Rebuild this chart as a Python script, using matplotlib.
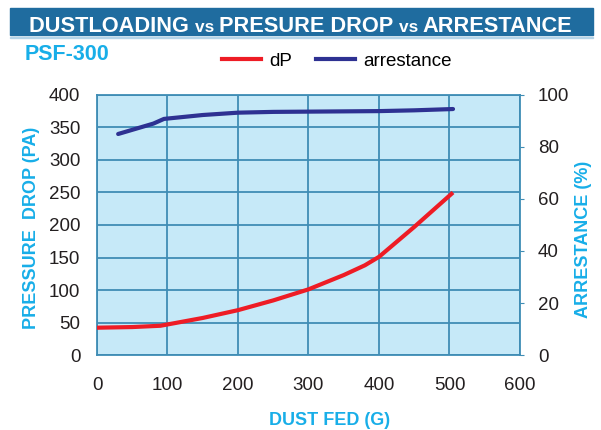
import matplotlib
matplotlib.use('Agg')
import matplotlib.pyplot as plt
from matplotlib.patches import Rectangle

plt.rcParams['font.family'] = ['Liberation Sans', 'DejaVu Sans']

# data
dust_dp = [0, 50, 90, 100, 150, 200, 250, 300, 350, 380, 400, 450, 505]
dp = [42, 43, 45, 47, 57, 69, 84, 101, 123, 138, 151, 197, 250]
dust_arr = [30, 80, 95, 150, 200, 250, 300, 400, 450, 505]
arrestance = [85, 89, 90.8, 92.3, 93.2, 93.5, 93.6, 93.8, 94.1, 94.6]

x_ticks = [0, 100, 200, 300, 400, 500, 600]
dp_ticks = [0, 50, 100, 150, 200, 250, 300, 350, 400]
arr_ticks = [0, 20, 40, 60, 80, 100]

title_parts = [('DUSTLOADING ', 17), ('vs ', 13.5), ('PRESURE DROP ', 17), ('vs ', 13.5), ('ARRESTANCE', 17)]

cyan = '#18aee8'
grid_c = '#3f8db5'
red = '#ee1c25'
navy = '#2e3192'

fig = plt.figure(figsize=(6.01, 4.30), dpi=100)
ax = fig.add_axes([0.1614, 0.1744, 0.7038, 0.6047])
ax.set_facecolor('#c6e9f8')

ax.plot(dust_dp, dp, color=red, lw=3, solid_capstyle='butt', zorder=3)
ax.set_xlim(0, 600)
ax.set_ylim(0, 400)
ax.set_xticks(x_ticks)
ax.set_yticks(dp_ticks)
ax.grid(True, color=grid_c, lw=1.3)
ax.set_axisbelow(True)
for s in ax.spines.values():
    s.set_color(grid_c)
    s.set_linewidth(1.3)
ax.tick_params(axis='both', length=0, labelsize=13.5, labelcolor='#231f20')
ax.tick_params(axis='x', pad=16)
ax.tick_params(axis='y', pad=12)

ax2 = ax.twinx()
ax2.plot(dust_arr, arrestance, color=navy, lw=3, solid_capstyle='round', zorder=3)
ax2.set_ylim(0, 100)
ax2.set_yticks(arr_ticks)
ax2.tick_params(axis='y', length=3, color=grid_c, labelsize=13.5, labelcolor='#231f20', pad=10)
for s in ax2.spines.values():
    s.set_visible(False)

fig.text(0.052, 0.47, 'PRESSURE  DROP (PA)', rotation=90, color=cyan, fontsize=13,
         fontweight='bold', ha='center', va='center')
fig.text(0.971, 0.443, 'ARRESTANCE (%)', rotation=90, color=cyan, fontsize=13,
         fontweight='bold', ha='center', va='center')
fig.text(0.549, 0.023, 'DUST FED (G)', color=cyan, fontsize=13, fontweight='bold',
         ha='center', va='center')

# title banner
fig.patches.append(Rectangle((10 / 601, 1 - 35 / 430), 583 / 601, 27 / 430,
                             transform=fig.transFigure, color='#1f6c9f', zorder=0))
fig.patches.append(Rectangle((10 / 601, 1 - 38 / 430), 583 / 601, 1.5 / 430,
                             transform=fig.transFigure, color='#b4d4e8', zorder=0))
renderer = fig.canvas.get_renderer()
texts = [fig.text(0, 1 - 32 / 430, txt, color='white', fontsize=size, fontweight='bold',
                  va='baseline', ha='left') for txt, size in title_parts]
total = sum(t.get_window_extent(renderer).width for t in texts)
scale = 543 / total
x = 29 / 601
for t, (txt, size) in zip(texts, title_parts):
    t.set_fontsize(size * scale)
    t.set_x(x)
    x += t.get_window_extent(renderer).width / fig.bbox.width

fig.text(25 / 601, 1 - 55 / 430, 'PSF-300', color=cyan, fontsize=15.5, fontweight='bold',
         va='center', ha='left')

h1, = ax.plot([], [], color=red, lw=3, label='dP')
h2, = ax.plot([], [], color=navy, lw=3, label='arrestance')
fig.legend(handles=[h1, h2], loc='center left', bbox_to_anchor=(205 / 601, 1 - 61 / 430),
           ncol=2, frameon=False, fontsize=13.5, handlelength=2.1, handletextpad=0.4,
           columnspacing=1.3)

fig.savefig('out.png', dpi=100)
